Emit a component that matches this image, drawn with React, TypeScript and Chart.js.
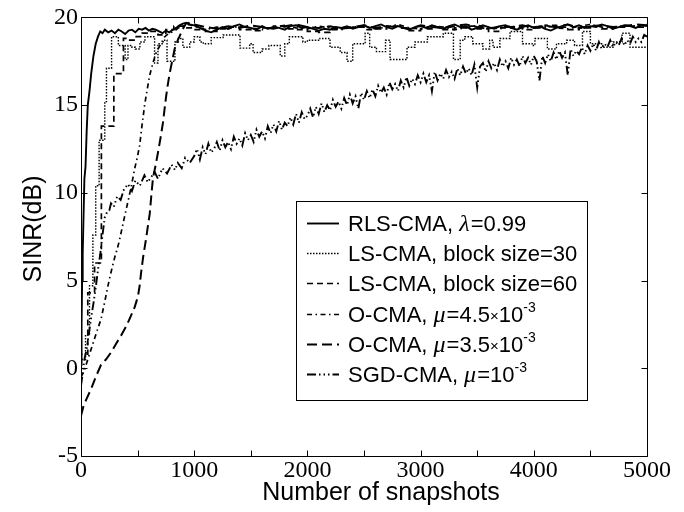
import React, { useEffect, useRef } from 'react';
import { Chart, registerables } from 'chart.js';

Chart.register(...registerables);

// ---------- axis ticks ----------
const X_LABEL_TICKS = [0, 1000, 2000, 3000, 4000, 5000];
const X_MARK_TICKS = [0, 500, 1000, 1500, 2000, 2500, 3000, 3500, 4000, 4500, 5000];
const Y_TICKS = [-5, 0, 5, 10, 15, 20];

// ---------- RLS-CMA, lambda=0.99 (solid) ----------
const rlsEarlyX = [1, 5, 10, 15, 20, 30, 40, 50, 60, 75, 90, 110, 130, 150, 170, 190, 210, 240, 270, 300, 330, 360, 390, 420, 450, 480, 510, 540, 570, 600, 630, 660, 690, 720, 750, 780, 810, 840, 870, 900, 930, 960];
const rlsEarlyY = [0.2, 2.5, 5.0, 6.5, 8.0, 10.8, 11.5, 13.5, 15.0, 15.8, 16.8, 17.8, 18.5, 18.9, 19.2, 19.1, 19.3, 19.15, 19.25, 19.1, 19.3, 19.2, 19.05, 19.25, 19.3, 19.15, 19.35, 19.3, 19.4, 19.25, 19.35, 19.3, 19.2, 19.1, 19.25, 19.15, 19.3, 19.4, 19.55, 19.65, 19.7, 19.6];
const rlsTailStart = 1000;
const rlsTailStep = 50;
const rlsTailY = [19.55, 19.4, 19.25, 19.15, 19.3, 19.45, 19.35, 19.5, 19.6, 19.45, 19.4, 19.3, 19.5, 19.35, 19.45, 19.4, 19.3, 19.5, 19.55, 19.4, 19.45, 19.35, 19.25, 19.35, 19.3, 19.45, 19.4, 19.5, 19.35, 19.45, 19.55, 19.4, 19.5, 19.6, 19.45, 19.35, 19.5, 19.4, 19.3, 19.45, 19.5, 19.4, 19.55, 19.45, 19.35, 19.5, 19.6, 19.45, 19.5, 19.3, 19.4, 19.55, 19.45, 19.35, 19.5, 19.55, 19.4, 19.3, 19.45, 19.55, 19.4, 19.5, 19.35, 19.25, 19.4, 19.5, 19.6, 19.45, 19.55, 19.4, 19.5, 19.45, 19.6, 19.5, 19.35, 19.45, 19.55, 19.5, 19.4, 19.55, 19.5];

// ---------- LS-CMA, block size=30 (dotted, stepped) ----------
const ls30X = [0, 40, 75, 105, 130, 160, 210, 225, 270, 330, 390, 415, 450, 480, 520, 565, 650, 680, 725, 760, 830, 860, 900, 960, 1000, 1050, 1080, 1150, 1255, 1405, 1490, 1520, 1600, 1660, 1760, 1800, 1840, 1960, 2000, 2110, 2200, 2290, 2350, 2400, 2510, 2550, 2610, 2690, 2730, 2880, 2950, 3060, 3200, 3290, 3350, 3390, 3460, 3550, 3610, 3640, 3700, 3790, 3900, 3985, 4010, 4120, 4200, 4290, 4360, 4430, 4500, 4610, 4700, 4780, 4850, 4910, 5000];
const ls30Y = [-0.5, 0.5, 1.9, 4.7, 7.6, 10.4, 13.0, 15.2, 17.1, 18.9, 18.4, 17.6, 18.4, 18.3, 18.2, 18.6, 18.9, 17.4, 18.5, 18.7, 17.5, 18.6, 18.8, 18.3, 18.6, 18.9, 18.6, 18.5, 18.85, 19.0, 18.25, 18.5, 18.0, 18.2, 18.4, 17.8, 18.5, 18.9, 18.6, 18.7, 18.8, 18.3, 18.0, 17.5, 18.5, 19.1, 18.3, 18.05, 18.7, 17.6, 18.3, 18.6, 18.9, 19.1, 17.6, 18.7, 18.9, 18.5, 18.2, 18.7, 18.3, 18.8, 19.2, 18.5, 18.4, 18.8, 18.2, 18.5, 18.7, 18.4, 19.2, 18.5, 18.3, 18.6, 19.1, 18.3, 18.3];

// ---------- LS-CMA, block size=60 (dashed, stepped) ----------
const ls60EarlyX = [0, 60, 120, 180, 290, 375, 415, 480, 540, 610, 680, 750, 820, 900, 960, 1000];
const ls60EarlyY = [-0.6, 0.8, 4.3, 6.0, 13.8, 16.8, 18.8, 18.7, 18.9, 19.1, 19.2, 19.0, 19.3, 19.5, 19.4, 19.4];
const ls60TailStart = 1100;
const ls60TailStep = 100;
const ls60TailY = [19.3, 19.2, 19.35, 19.45, 19.3, 19.25, 19.4, 19.5, 19.35, 19.3, 19.2, 19.15, 19.3, 19.4, 19.45, 19.3, 19.35, 19.5, 19.4, 19.25, 19.35, 19.45, 19.3, 19.4, 19.5, 19.35, 19.2, 19.4, 19.45, 19.3, 19.4, 19.55, 19.45, 19.3, 19.4, 19.5, 19.35, 19.45, 19.5, 19.45];

// ---------- O-CMA, mu=4.5e-3 (dash-dot) ----------
const o45EarlyX = [0, 25, 50, 75, 100, 140, 177, 210, 238, 270, 297, 320, 340, 380, 415, 445, 475, 500, 518, 540, 562, 585, 607, 635, 665, 706, 740, 780, 820, 860, 900, 950, 1000];
const o45EarlyY = [-0.5, -0.2, 0.3, 0.8, 1.3, 2.1, 2.8, 3.8, 4.7, 5.6, 6.3, 6.8, 7.3, 8.5, 9.5, 10.4, 11.4, 12.1, 12.7, 13.9, 15.0, 15.9, 16.7, 17.4, 18.0, 18.5, 18.9, 19.1, 19.2, 19.4, 19.5, 19.6, 19.5];
const o45TailStart = 1100;
const o45TailStep = 100;
const o45TailY = [19.3, 19.45, 19.35, 19.5, 19.4, 19.3, 19.45, 19.55, 19.4, 19.35, 19.5, 19.4, 19.3, 19.45, 19.5, 19.35, 19.45, 19.6, 19.4, 19.35, 19.5, 19.45, 19.3, 19.4, 19.55, 19.45, 19.35, 19.5, 19.4, 19.45, 19.55, 19.4, 19.35, 19.5, 19.6, 19.45, 19.4, 19.55, 19.5, 19.6];

// ---------- O-CMA, mu=3.5e-3 (long dash) ----------
const o35EarlyX = [0, 20, 45, 88, 130, 177, 220, 265, 310, 353, 400, 442, 475, 503, 518, 530, 548, 575, 607, 622, 636, 660, 680, 707, 724, 750, 765, 783, 805, 827, 855, 883, 905, 927, 960, 1000];
const o35EarlyY = [-2.7, -2.2, -1.8, -1.2, -0.5, 0.2, 0.5, 0.9, 1.4, 1.85, 2.4, 3.0, 3.5, 4.1, 4.7, 5.4, 6.3, 7.4, 8.8, 9.9, 10.85, 11.6, 12.3, 13.3, 14.0, 15.4, 16.1, 16.8, 17.5, 18.2, 18.7, 19.1, 19.4, 19.65, 19.7, 19.6];
const o35TailStart = 1100;
const o35TailStep = 100;
const o35TailY = [19.45, 19.35, 19.5, 19.4, 19.55, 19.45, 19.35, 19.5, 19.6, 19.45, 19.4, 19.5, 19.35, 19.45, 19.55, 19.4, 19.5, 19.45, 19.35, 19.55, 19.45, 19.4, 19.5, 19.6, 19.45, 19.35, 19.5, 19.45, 19.55, 19.4, 19.5, 19.45, 19.6, 19.4, 19.5, 19.55, 19.45, 19.5, 19.6, 19.55];

// ---------- SGD-CMA, mu=1e-3 (dash-dot-dot) ----------
const sgdEarlyX = [0, 15, 30, 50, 70, 90, 110, 130, 150, 170, 190, 210, 230, 250, 265, 290, 320, 350, 380, 415, 450, 480, 520, 560, 590, 620, 650, 680, 720, 760, 800, 830, 855, 890, 920, 960, 1000];
const sgdEarlyY = [-1.0, -0.3, 0.5, 1.1, 2.0, 2.9, 3.7, 4.6, 5.6, 6.5, 7.6, 8.6, 8.9, 9.0, 9.4, 9.2, 9.8, 9.6, 10.2, 10.5, 10.1, 10.7, 10.4, 11.0, 10.6, 10.9, 11.2, 10.8, 11.4, 11.1, 11.6, 11.3, 11.7, 11.4, 12.0, 11.7, 12.1];
const sgdTailStart = 1025;
const sgdTailStep = 25;
const sgdTailY = [
  12.5, 11.9, 12.6, 12.2, 12.8, 12.3, 12.5, 12.9, 12.4, 13.0, 12.6, 12.9, 12.5, 13.2, 12.8, 13.1, 12.7, 13.4, 13.0, 13.3,
  12.9, 13.6, 13.2, 13.5, 13.1, 13.8, 13.4, 13.9, 13.5, 14.1, 13.6, 14.0, 13.8, 14.3, 13.9, 14.5, 14.0, 14.6, 14.2, 14.4,
  14.8, 14.3, 14.9, 14.5, 15.1, 14.6, 15.0, 14.7, 15.3, 14.9, 15.2, 14.8, 15.4, 15.0, 15.6, 15.1, 15.5, 14.8, 15.7, 15.3,
  15.8, 15.4, 15.9, 15.5, 16.1, 15.7, 16.0, 15.6, 16.3, 15.9, 16.2, 15.8, 16.4, 16.0, 16.6, 16.1, 16.5, 16.2, 16.7, 16.3,
  16.8, 16.3, 16.7, 15.8, 16.9, 16.4, 16.8, 16.5, 17.0, 16.6, 16.9, 16.5, 17.1, 16.7, 17.2, 16.8, 17.1, 16.7, 17.3, 16.0,
  17.2, 17.4, 16.9, 17.5, 17.1, 17.4, 17.0, 17.6, 17.2, 17.5, 17.1, 17.7, 17.3, 17.6, 17.2, 17.8, 17.4, 17.7, 17.3, 17.8,
  17.5, 16.4, 17.8, 17.4, 17.9, 17.5, 18.0, 17.6, 18.1, 17.7, 18.0, 16.7, 18.2, 17.8, 18.1, 17.9, 18.3, 17.9, 18.4, 18.1,
  18.5, 18.1, 18.6, 18.2, 18.5, 18.3, 18.7, 18.3, 18.6, 18.4, 18.8, 18.4, 18.7, 18.5, 18.9, 18.6, 18.8, 18.6, 19.0, 18.9,
];

const SANS = "'Liberation Sans', Arial, sans-serif";
const SERIF = "'Liberation Serif', 'Times New Roman', serif";

type Pt = { x: number; y: number };
const pairs = (xs: number[], ys: number[]): Pt[] => xs.map((x, i) => ({ x, y: ys[i] }));
const tail = (start: number, step: number, ys: number[]): Pt[] => ys.map((y, i) => ({ x: start + i * step, y }));

type Piece = { t: string; f: 'n' | 'i' | 'sup' | 'small' };
const legendTexts: Piece[][] = [
  [{ t: 'RLS-CMA, ', f: 'n' }, { t: 'λ', f: 'i' }, { t: '=0.99', f: 'n' }],
  [{ t: 'LS-CMA, block size=30', f: 'n' }],
  [{ t: 'LS-CMA, block size=60', f: 'n' }],
  [{ t: 'O-CMA, ', f: 'n' }, { t: 'μ', f: 'i' }, { t: '=4.5', f: 'n' }, { t: '×', f: 'small' }, { t: '10', f: 'n' }, { t: '-3', f: 'sup' }],
  [{ t: 'O-CMA, ', f: 'n' }, { t: 'μ', f: 'i' }, { t: '=3.5', f: 'n' }, { t: '×', f: 'small' }, { t: '10', f: 'n' }, { t: '-3', f: 'sup' }],
  [{ t: 'SGD-CMA, ', f: 'n' }, { t: 'μ', f: 'i' }, { t: '=10', f: 'n' }, { t: '-3', f: 'sup' }],
];

const fontFor = (f: Piece['f']) => {
  if (f === 'i') return `italic 24px ${SERIF}`;
  if (f === 'sup') return `14px ${SANS}`;
  if (f === 'small') return `15px ${SANS}`;
  return `22px ${SANS}`;
};

const framePlugin = {
  id: 'framePlugin',
  afterDatasetsDraw(chart: any) {
    const { ctx, chartArea: a, scales } = chart;
    const xs = scales.x;
    const ys = scales.y;
    ctx.save();
    ctx.strokeStyle = '#000';
    ctx.lineWidth = 1;
    ctx.setLineDash([]);
    const L = Math.round(a.left) + 0.5;
    const R = Math.round(a.right) + 0.5;
    const T = Math.round(a.top) + 0.5;
    const B = Math.round(a.bottom) + 0.5;
    ctx.beginPath();
    ctx.rect(L, T, R - L, B - T);
    for (const v of X_MARK_TICKS) {
      const px = Math.round(xs.getPixelForValue(v)) + 0.5;
      ctx.moveTo(px, B);
      ctx.lineTo(px, B - 6);
      ctx.moveTo(px, T);
      ctx.lineTo(px, T + 6);
    }
    for (const v of Y_TICKS) {
      const py = Math.round(ys.getPixelForValue(v)) + 0.5;
      ctx.moveTo(L, py);
      ctx.lineTo(L + 6, py);
      ctx.moveTo(R, py);
      ctx.lineTo(R - 6, py);
    }
    ctx.stroke();

    // axis titles
    ctx.fillStyle = '#000';
    ctx.font = `25px ${SANS}`;
    ctx.textAlign = 'center';
    ctx.textBaseline = 'alphabetic';
    ctx.fillText('Number of snapshots', 381, 500);
    ctx.save();
    ctx.translate(41, 229);
    ctx.rotate(-Math.PI / 2);
    ctx.fillText('SINR(dB)', 0, 0);
    ctx.restore();

    // legend
    const bx = 296.5, by = 201.5, bw = 291, bh = 199;
    ctx.fillStyle = '#fff';
    ctx.fillRect(bx, by, bw, bh);
    ctx.strokeRect(bx, by, bw, bh);
    const dsets = chart.data.datasets;
    for (let i = 0; i < dsets.length; i++) {
      const d = dsets[i];
      const cy = 223 + i * 30.2;
      ctx.save();
      ctx.strokeStyle = '#000';
      ctx.lineWidth = d.borderWidth;
      ctx.setLineDash(d.borderDash || []);
      ctx.beginPath();
      ctx.moveTo(307, Math.round(cy) + 0.5);
      ctx.lineTo(339, Math.round(cy) + 0.5);
      ctx.stroke();
      ctx.restore();
      let x = 348;
      ctx.fillStyle = '#000';
      ctx.textAlign = 'left';
      ctx.textBaseline = 'alphabetic';
      const base = cy + 8;
      for (const p of legendTexts[i]) {
        ctx.font = fontFor(p.f);
        const yy = p.f === 'sup' ? base - 10 : p.f === 'small' ? base - 1 : base;
        ctx.fillText(p.t, x, yy);
        x += ctx.measureText(p.t).width + (p.f === 'i' ? 1 : 0);
      }
    }
    ctx.restore();
  },
};

export default function App() {
  const ref = useRef<HTMLCanvasElement | null>(null);
  useEffect(() => {
    document.body.style.margin = '0';
    if (!ref.current) return;
    const common = { borderColor: '#000', pointRadius: 0, fill: false, tension: 0 };
    const chart = new Chart(ref.current, {
      type: 'line',
      data: {
        datasets: [
          { ...common, label: 'RLS-CMA', data: [...pairs(rlsEarlyX, rlsEarlyY), ...tail(rlsTailStart, rlsTailStep, rlsTailY)], borderWidth: 1.9, borderDash: [] },
          { ...common, label: 'LS-CMA 30', data: pairs(ls30X, ls30Y), borderWidth: 1.4, borderDash: [1.5, 1.5], stepped: 'after' },
          { ...common, label: 'LS-CMA 60', data: [...pairs(ls60EarlyX, ls60EarlyY), ...tail(ls60TailStart, ls60TailStep, ls60TailY)], borderWidth: 1.7, borderDash: [6, 4], stepped: 'after' },
          { ...common, label: 'O-CMA 4.5', data: [...pairs(o45EarlyX, o45EarlyY), ...tail(o45TailStart, o45TailStep, o45TailY)], borderWidth: 1.7, borderDash: [5, 3.5, 1.5, 3.5] },
          { ...common, label: 'O-CMA 3.5', data: [...pairs(o35EarlyX, o35EarlyY), ...tail(o35TailStart, o35TailStep, o35TailY)], borderWidth: 2, borderDash: [10, 5] },
          { ...common, label: 'SGD-CMA', data: [...pairs(sgdEarlyX, sgdEarlyY), ...tail(sgdTailStart, sgdTailStep, sgdTailY)], borderWidth: 1.9, borderDash: [9, 3, 1.5, 3, 1.5, 3, 1.5, 3] },
        ],
      } as any,
      options: {
        animation: false,
        responsive: false,
        devicePixelRatio: 1,
        layout: { padding: { left: 0, right: 37, top: 11, bottom: 0 } },
        plugins: { legend: { display: false }, tooltip: { enabled: false } },
        scales: {
          x: {
            type: 'linear',
            min: 0,
            max: 5000,
            grid: { display: false, drawTicks: false },
            border: { display: false },
            afterBuildTicks: (s: any) => { s.ticks = X_LABEL_TICKS.map((v) => ({ value: v })); },
            afterFit: (s: any) => { s.height = 56; },
            ticks: { color: '#000', font: { family: SERIF, size: 24 }, padding: 0, maxRotation: 0, autoSkip: false, callback: (v: any) => String(v) },
          },
          y: {
            type: 'linear',
            min: -5,
            max: 20,
            grid: { display: false, drawTicks: false },
            border: { display: false },
            afterBuildTicks: (s: any) => { s.ticks = Y_TICKS.map((v) => ({ value: v })); },
            afterFit: (s: any) => { s.width = 81; },
            ticks: { color: '#000', font: { family: SERIF, size: 24 }, padding: 3, autoSkip: false, callback: (v: any) => String(v) },
          },
        },
      } as any,
      plugins: [framePlugin],
    });
    return () => chart.destroy();
  }, []);
  return <canvas ref={ref} width={684} height={512} style={{ display: 'block' }} />;
}
